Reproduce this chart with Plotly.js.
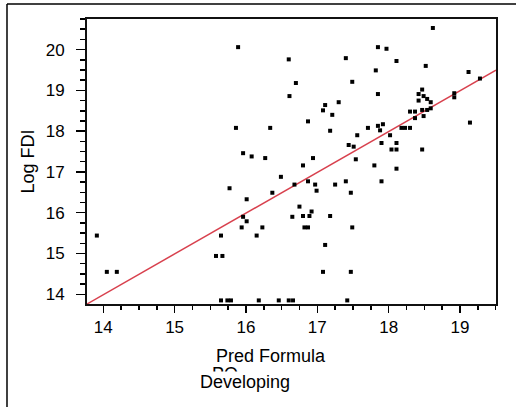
<!DOCTYPE html>
<html>
<head>
<meta charset="utf-8">
<script src="https://cdn.plot.ly/plotly-3.0.1.min.js"></script>
<style>html,body{margin:0;padding:0;background:#fff;}#chart{width:516px;height:407px;}</style>
</head>
<body>
<div id="chart"></div>
<script>
const predFormula = [
  13.91, 14.05, 14.19, 15.58, 15.67, 15.65, 15.65, 15.74, 15.79, 15.77,
  15.89, 15.86, 15.96, 16.08, 16.27, 16.01, 15.96, 16.01, 15.94, 16.23,
  16.15, 16.18, 16.34, 16.37, 16.49, 16.46, 16.60, 16.70, 16.61, 16.68,
  16.65, 16.75, 16.60, 16.66, 16.80, 16.87, 16.97, 16.99, 16.80, 16.89,
  16.82, 16.87, 16.92, 16.94, 16.87, 17.11, 17.30, 17.08, 17.21, 17.18,
  17.40, 17.49, 17.56, 17.44, 17.51, 17.54, 17.25, 17.40, 17.47, 17.18,
  17.49, 17.11, 17.08, 17.47, 17.42, 17.80, 18.11, 17.90, 18.62, 17.85,
  17.97, 18.11, 18.52, 17.82, 19.12, 19.28, 17.85, 18.47, 18.42, 18.49,
  18.54, 18.42, 18.59, 18.92, 18.92, 18.59, 18.47, 18.54, 18.30, 18.37,
  18.49, 18.37, 19.14, 17.71, 17.85, 17.92, 17.88, 18.18, 18.23, 18.30,
  18.02, 17.90, 18.11, 18.04, 18.11, 18.47
];
const logFDI = [
  15.44, 14.55, 14.55, 14.94, 14.94, 15.44, 13.85, 13.85, 13.85, 16.60,
  20.06, 18.08, 17.46, 17.38, 17.34, 16.33, 15.90, 15.79, 15.64, 15.64,
  15.44, 13.85, 18.08, 16.49, 16.88, 13.85, 19.76, 19.18, 18.86, 16.69,
  15.90, 16.15, 13.85, 13.85, 17.16, 16.77, 16.69, 16.54, 15.92, 15.92,
  15.64, 15.64, 16.03, 17.34, 18.24, 18.64, 18.71, 18.51, 18.40, 18.01,
  19.79, 19.21, 17.90, 17.66, 17.62, 17.31, 16.69, 16.77, 16.49, 15.92,
  15.64, 15.21, 14.55, 14.55, 13.85, 17.16, 17.08, 16.77, 20.53, 20.06,
  20.02, 19.72, 19.60, 19.49, 19.45, 19.29, 18.91, 19.02, 18.91, 18.86,
  18.79, 18.75, 18.71, 18.93, 18.83, 18.56, 18.52, 18.52, 18.48, 18.48,
  18.37, 18.32, 18.21, 18.08, 18.13, 18.17, 18.02, 18.08, 18.08, 18.08,
  17.90, 17.71, 17.71, 17.55, 17.55, 17.55
];
// Linear fit (intercept, slope) and x extent
const fitCoef = [-0.01, 1.0];
const fitRange = [13.772, 19.505];
const xTickVals = [14, 15, 16, 17, 18, 19];
const yTickVals = [14, 15, 16, 17, 18, 19, 20];
const xTitle = "Pred Formula";
const xTitle2 = "PO";
const groupLabel = "Developing";
const yTitle = "Log FDI";

const fitY = fitRange.map(x => fitCoef[0] + fitCoef[1] * x);
const font = "Liberation Sans, Arial, sans-serif";

const traces = [
  {
    x: fitRange, y: fitY, type: "scatter", mode: "lines",
    line: {color: "#d8414e", width: 1.5}, hoverinfo: "skip", showlegend: false
  },
  {
    x: predFormula, y: logFDI, type: "scatter", mode: "markers",
    marker: {symbol: "square", size: 4, color: "#000"}, showlegend: false
  }
];

const layout = {
  width: 516, height: 407,
  margin: {l: 87, r: 20, t: 19, b: 103},
  paper_bgcolor: "#fff", plot_bgcolor: "#fff",
  font: {family: font, color: "#000", size: 17},
  showlegend: false,
  xaxis: {
    range: fitRange, tickvals: xTickVals, ticks: "outside", ticklen: 7, tickwidth: 1.5,
    tickcolor: "#000", showgrid: false, zeroline: false,
    showline: true, linecolor: "#111", linewidth: 2, mirror: true,
    tickfont: {family: font, size: 17, color: "#000"},
    minor: {dtick: 0.25, ticks: "outside", ticklen: 4, tickwidth: 1.5, tickcolor: "#000", showgrid: false}
  },
  yaxis: {
    range: [13.762, 20.75], tickvals: yTickVals, ticks: "outside", ticklen: 9, tickwidth: 1.5,
    tickcolor: "#000", showgrid: false, zeroline: false, ticklabelstandoff: 8,
    showline: true, linecolor: "#111", linewidth: 2, mirror: true,
    tickfont: {family: font, size: 17, color: "#000"},
    minor: {dtick: 0.25, ticks: "outside", ticklen: 5, tickwidth: 1.5, tickcolor: "#000", showgrid: false},
    title: {text: yTitle, font: {family: font, size: 18, color: "#000"}, standoff: 6}
  },
  shapes: [
    {type: "line", xref: "paper", yref: "paper", x0: -0.1956, x1: -0.1956, y0: 1.0526, y1: -0.37, line: {color: "#000", width: 1.5}},
    {type: "line", xref: "paper", yref: "paper", x0: -0.1956, x1: 1.06, y0: 1.0526, y1: 1.0526, line: {color: "#000", width: 1.5}}
  ],
  annotations: [
    {text: xTitle, xref: "paper", yref: "paper", x: 0.4499, y: -0.1814, xanchor: "center", yanchor: "middle",
     showarrow: false, font: {family: font, size: 18, color: "#000"}},
    {text: xTitle2, xref: "paper", yref: "paper", x: 0.3007, y: -0.2456, xanchor: "left", yanchor: "middle",
     showarrow: false, font: {family: font, size: 18, color: "#000"}},
    {text: groupLabel, xref: "paper", yref: "paper", x: 0.3863, y: -0.2726, xanchor: "center", yanchor: "middle",
     showarrow: false, bgcolor: "#fff", borderpad: 0, font: {family: font, size: 18, color: "#000"}}
  ]
};

Plotly.newPlot("chart", traces, layout, {displayModeBar: false, staticPlot: true});
</script>
</body>
</html>
